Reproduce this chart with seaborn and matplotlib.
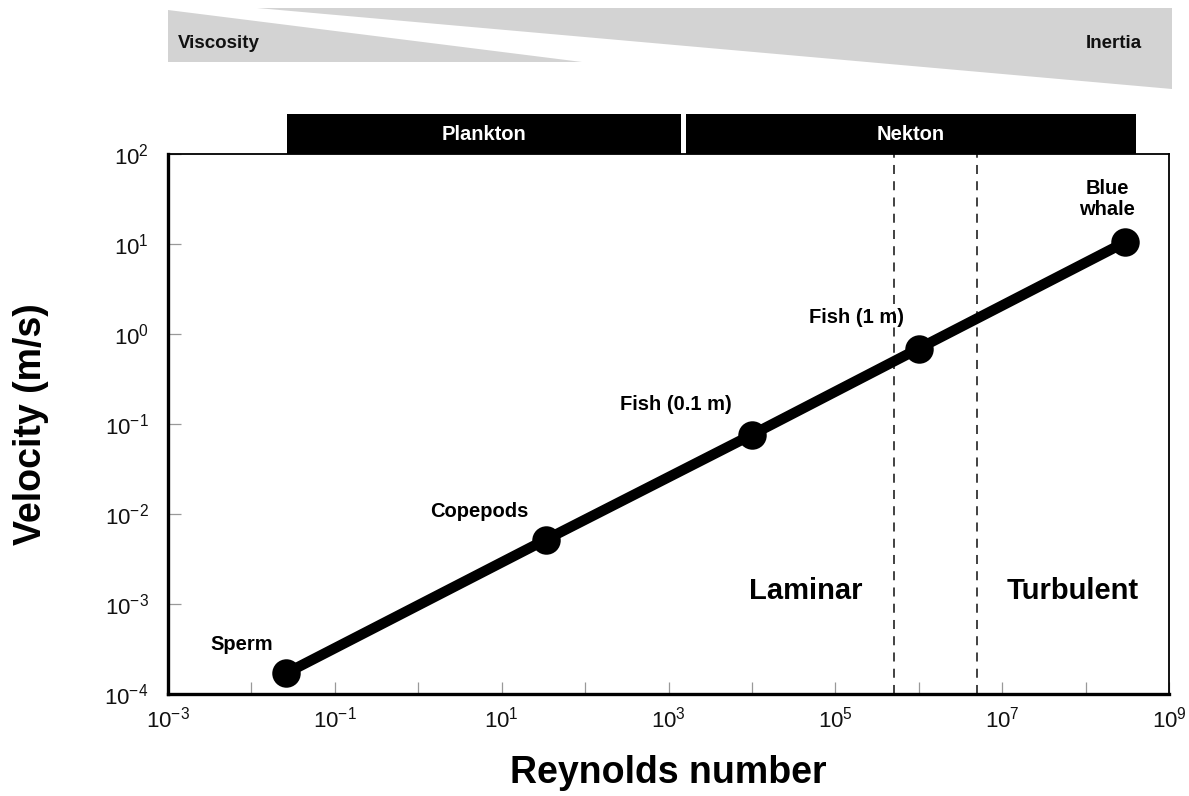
import numpy as np
import pandas as pd
import matplotlib.pyplot as plt
import seaborn as sns
from matplotlib.patches import Polygon, Rectangle

# organisms along the Reynolds number line
organisms = ['Sperm', 'Copepods', 'Fish (0.1 m)', 'Fish (1 m)', 'Blue\nwhale']
reynolds = [0.026, 34, 1.0e4, 1.0e6, 3.0e8]
velocity = [1.7e-4, 5.2e-3, 0.076, 0.69, 10.5]

# laminar/turbulent transition lines
transition_re = [5e5, 5e6]

# plankton / nekton bands across the top
zones = ['Plankton', 'Nekton']
zone_start = [0.027, 1.6e3]
zone_end = [1.4e3, 4.0e8]

x_ticks = [10.0 ** e for e in range(-3, 10)]
x_tick_labels = ['$10^{-3}$', '', '$10^{-1}$', '', '$10^{1}$', '', '$10^{3}$', '',
                 '$10^{5}$', '', '$10^{7}$', '', '$10^{9}$']
y_ticks = [10.0 ** e for e in range(-4, 3)]
y_tick_labels = ['$10^{-4}$', '$10^{-3}$', '$10^{-2}$', '$10^{-1}$', '$10^{0}$', '$10^{1}$', '$10^{2}$']

df = pd.DataFrame({'organism': organisms, 'Re': reynolds, 'v': velocity})

sns.set_style('white', {'text.color': 'black', 'axes.labelcolor': 'black',
                        'xtick.color': 'black', 'ytick.color': 'black'})
plt.rcParams['font.family'] = ['Liberation Sans', 'DejaVu Sans']
plt.rcParams['mathtext.fontset'] = 'custom'
plt.rcParams['mathtext.rm'] = 'Liberation Sans'
plt.rcParams['mathtext.it'] = 'Liberation Sans:italic'
plt.rcParams['mathtext.bf'] = 'Liberation Sans:bold'

fig = plt.figure(figsize=(11.89, 7.96), dpi=100)
ax = fig.add_axes([168 / 1189, 1 - 694 / 796, 1001 / 1189, 540 / 796])

ax.set_xscale('log')
ax.set_yscale('log')

for xv in transition_re:
    ax.axvline(xv, color='#333333', lw=1.3, ls=(0, (5, 4)), zorder=1)

sns.lineplot(data=df, x='Re', y='v', sort=False, color='black', lw=7.5, ax=ax, zorder=3)
sns.scatterplot(data=df, x='Re', y='v', color='black', s=360, edgecolor='black', ax=ax, zorder=4)

# label offsets (points) from each marker
offsets = [(-32, 21), (-48, 20), (-55, 22), (-45, 22), (-13, 31)]
for name, xv, yv, off in zip(organisms, reynolds, velocity, offsets):
    ax.annotate(name, (xv, yv), xytext=off, textcoords='offset points',
                ha='center', va='center', fontsize=14.5, fontweight='bold',
                linespacing=1.15, color='black')

ax.text(0.637, 0.191, 'Laminar', transform=ax.transAxes, ha='center', va='center',
        fontsize=21, fontweight='bold', color='black')
ax.text(0.904, 0.191, 'Turbulent', transform=ax.transAxes, ha='center', va='center',
        fontsize=21, fontweight='bold', color='black')

ax.set_xlim(1e-3, 1e9)
ax.set_ylim(1e-4, 1e2)
ax.set_xticks(x_ticks)
ax.set_xticklabels(x_tick_labels)
ax.set_yticks(y_ticks)
ax.set_yticklabels(y_tick_labels)
ax.minorticks_off()
ax.tick_params(axis='both', which='major', bottom=True, left=True, direction='in',
               length=9, width=0.9, color='#999999', labelsize=16, labelcolor='#111111')
ax.tick_params(axis='x', pad=9)
ax.tick_params(axis='y', pad=14)

ax.set_xlabel('Reynolds number', fontsize=27, fontweight='bold', labelpad=16)
ax.set_ylabel('Velocity (m/s)', fontsize=27, fontweight='bold', labelpad=40)

for side in ['left', 'bottom']:
    ax.spines[side].set_linewidth(2.4)
for side in ['top', 'right']:
    ax.spines[side].set_linewidth(1.3)
for sp in ax.spines.values():
    sp.set_color('black')

# zone bars above the axes
trans = ax.get_xaxis_transform()
for name, x0, x1 in zip(zones, zone_start, zone_end):
    ax.add_patch(Rectangle((x0, 1.0), x1 - x0, 0.074, transform=trans,
                           facecolor='black', edgecolor='none', clip_on=False))
    xm = np.sqrt(x0 * x1)
    ax.text(xm, 1.037, name, transform=trans, ha='center', va='center',
            color='white', fontsize=14.5, fontweight='bold')

# viscosity / inertia wedges
W, H = 1189, 796
visc = [(168, 10), (168, 62), (582, 62)]
iner = [(257, 8), (1172, 8), (1172, 89)]
for pts in (visc, iner):
    fig.patches.append(Polygon([(px / W, 1 - py / H) for px, py in pts], closed=True,
                               transform=fig.transFigure, facecolor='#d3d3d3',
                               edgecolor='none'))
fig.text(178 / W, 1 - 43 / H, 'Viscosity', ha='left', va='center', fontsize=13.5,
         fontweight='bold', color='#111111')
fig.text(1142 / W, 1 - 43 / H, 'Inertia', ha='right', va='center', fontsize=13.5,
         fontweight='bold', color='#111111')

fig.savefig('out.png', dpi=100)
